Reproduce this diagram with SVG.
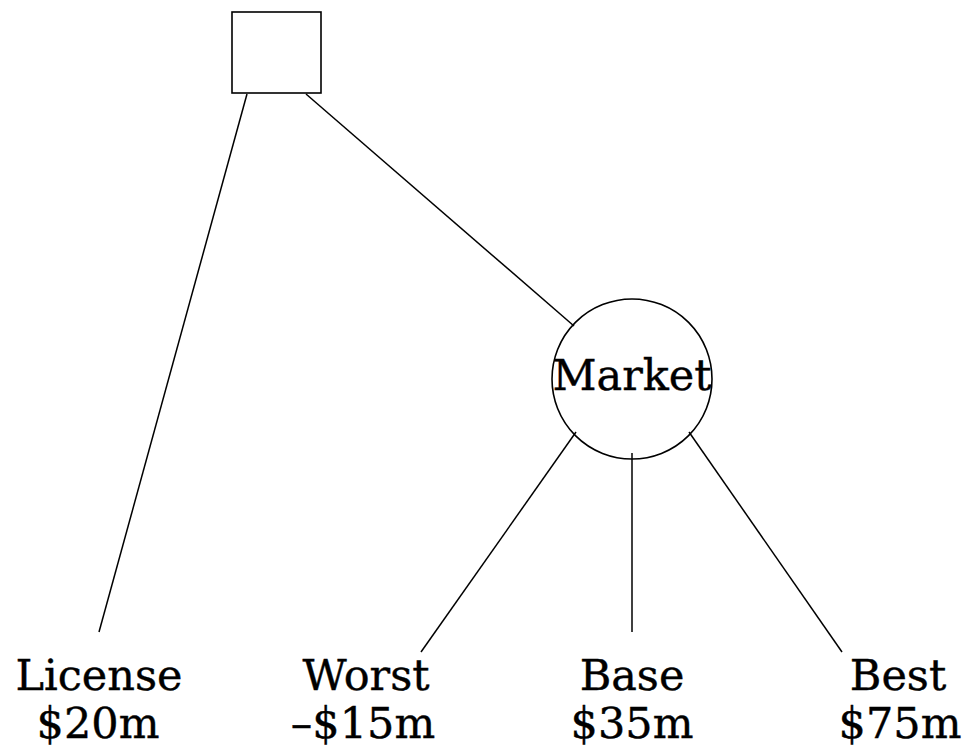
<svg xmlns="http://www.w3.org/2000/svg" width="964" height="747" viewBox="0 0 964 747">
<style>
.n{fill:#fff;stroke:#000;stroke-width:1.6}
.c line{stroke:#000;stroke-width:1.5}
text{font-family:"DejaVu Serif","Liberation Serif",serif;font-size:43px;fill:#000;stroke:#000;stroke-width:0.4;text-anchor:middle}
</style>
<rect width="964" height="747" fill="#fff"/>
<g class="c" id="connectors">
<line x1="247" y1="94" x2="99" y2="632"/>
<line x1="306" y1="94" x2="574" y2="326"/>
<line x1="576" y1="432" x2="421" y2="652"/>
<line x1="632" y1="453" x2="632" y2="632"/>
<line x1="689" y1="432" x2="842" y2="652"/>
</g>
<g id="decision"><rect class="n" x="232" y="12" width="89" height="81"/></g>
<g id="market"><circle class="n" cx="632" cy="379" r="80" style="fill:none"/><text x="632" y="390" font-size="44">Market</text></g>
<g id="license"><text x="99" y="690">License</text><text x="98" y="738">$20m</text></g>
<g id="worst"><text x="366" y="690">Worst</text><text x="363" y="738">–$15m</text></g>
<g id="base"><text x="632" y="690">Base</text><text x="632" y="738">$35m</text></g>
<g id="best"><text x="898" y="690">Best</text><text x="900" y="738">$75m</text></g>
</svg>
